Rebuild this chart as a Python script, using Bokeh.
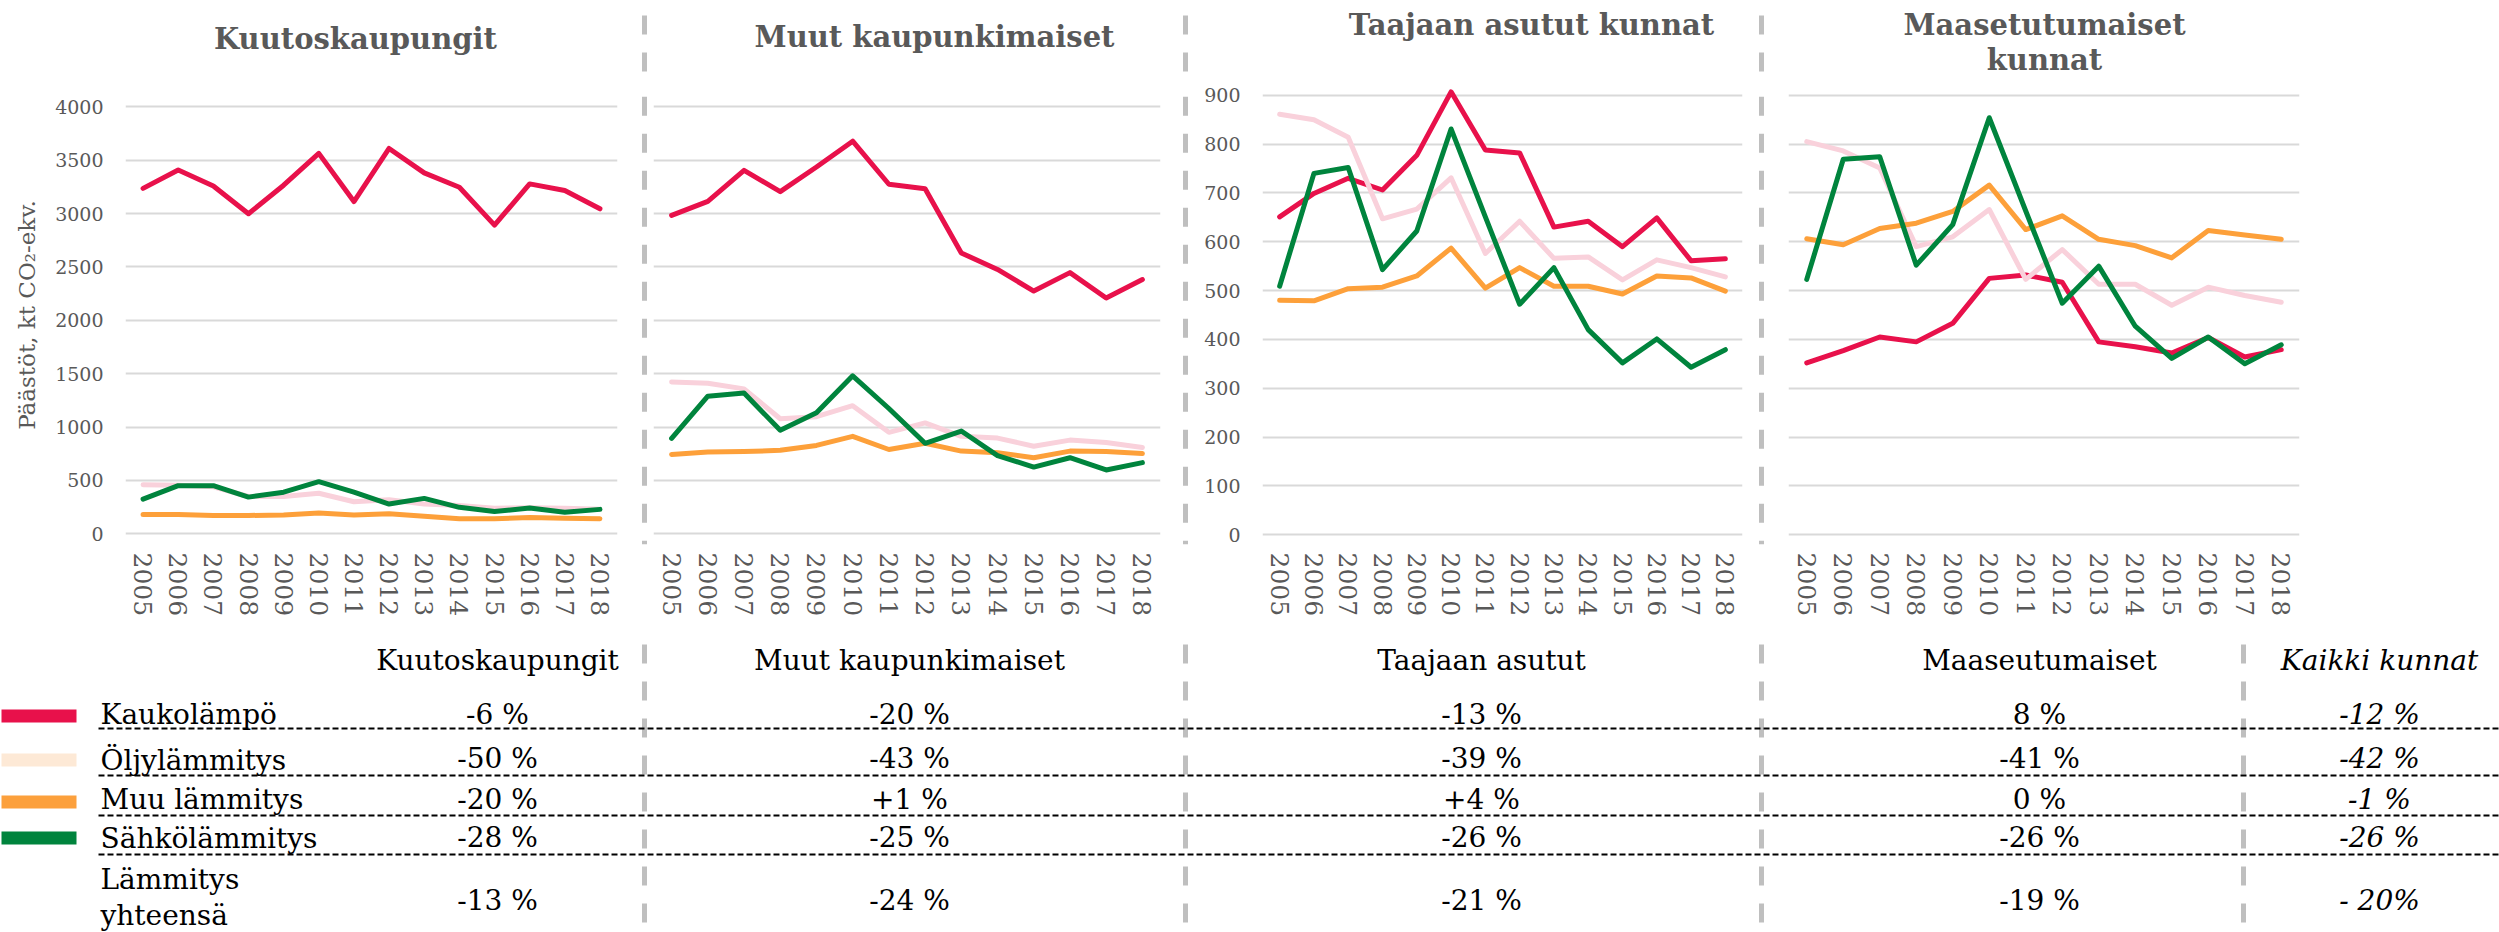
from bokeh.plotting import figure
from bokeh.models import Range1d, FactorRange, FixedTicker, Grid
from bokeh.layouts import row, column
from bokeh.embed import file_html
from bokeh.resources import INLINE
from bokeh.core.properties import value

FONT = "DejaVu Serif"
GRAY = "#595959"
SEP_COLOR = "#BFBFBF"

# ---------------- data ----------------
years = [str(y) for y in range(2005, 2019)]
series_names = ["Kaukolämpö", "Öljylämmitys", "Muu lämmitys", "Sähkölämmitys"]
line_colors = ["#E8114B", "#F9D1DB", "#FDA03A", "#00843D"]
legend_colors = ["#E8114B", "#FDE9D6", "#FCA03C", "#00843D"]

kuutos_kaukolampo = [3236, 3408, 3259, 2999, 3266, 3564, 3113, 3610, 3381, 3247, 2892, 3278, 3216, 3045]
kuutos_oljy = [460, 455, 440, 350, 350, 380, 300, 320, 280, 265, 240, 245, 240, 230]
kuutos_muu = [180, 180, 172, 172, 176, 195, 176, 187, 164, 141, 141, 153, 145, 141]
kuutos_sahko = [325, 451, 451, 344, 390, 489, 390, 279, 332, 248, 210, 241, 202, 229]

muut_kaukolampo = [2984, 3114, 3405, 3206, 3436, 3678, 3275, 3233, 2631, 2477, 2274, 2447, 2209, 2382]
muut_oljy = [1423, 1411, 1358, 1078, 1097, 1200, 951, 1039, 913, 897, 821, 878, 855, 809]
muut_muu = [744, 767, 771, 782, 828, 913, 790, 848, 775, 759, 713, 775, 771, 752]
muut_sahko = [894, 1289, 1319, 970, 1135, 1480, 1174, 848, 963, 733, 625, 713, 598, 667]

taajaan_kaukolampo = [651, 699, 730, 706, 777, 907, 788, 782, 630, 642, 590, 649, 561, 565]
taajaan_oljy = [861, 850, 814, 647, 667, 731, 576, 642, 566, 569, 522, 563, 547, 528]
taajaan_muu = [480, 479, 504, 507, 530, 587, 505, 547, 509, 509, 493, 530, 526, 499]
taajaan_sahko = [509, 740, 752, 543, 622, 831, 651, 472, 547, 420, 352, 401, 343, 379]

maaseutu_kaukolampo = [352, 377, 405, 395, 433, 525, 532, 517, 395, 385, 372, 404, 364, 379]
maaseutu_oljy = [805, 786, 751, 590, 610, 666, 523, 584, 513, 513, 470, 507, 490, 476]
maaseutu_muu = [606, 594, 627, 638, 662, 716, 625, 653, 605, 592, 567, 623, 614, 605]
maaseutu_sahko = [523, 769, 774, 552, 635, 854, 663, 474, 550, 427, 361, 405, 350, 389]

ticks_large = [0, 500, 1000, 1500, 2000, 2500, 3000, 3500, 4000]
ticks_small = [0, 100, 200, 300, 400, 500, 600, 700, 800, 900]

panel_titles = ["Kuutoskaupungit", "Muut kaupunkimaiset", "Taajaan asutut kunnat",
                "Maasetutumaiset", "kunnat"]
y_axis_title = "Päästöt, kt CO₂-ekv."

table_headers = ["Kuutoskaupungit", "Muut kaupunkimaiset", "Taajaan asutut", "Maaseutumaiset", "Kaikki kunnat"]
row_labels = ["Kaukolämpö", "Öljylämmitys", "Muu lämmitys", "Sähkölämmitys", "Lämmitys", "yhteensä"]
change_kuutos = ["-6 %", "-50 %", "-20 %", "-28 %", "-13 %"]
change_muut = ["-20 %", "-43 %", "+1 %", "-25 %", "-24 %"]
change_taajaan = ["-13 %", "-39 %", "+4 %", "-26 %", "-21 %"]
change_maaseutu = ["8 %", "-41 %", "0 %", "-26 %", "-19 %"]
change_kaikki = ["-12 %", "-42 %", "-1 %", "-26 %", "- 20%"]

W = 2499
TITLE_H = 75
CHART_H = 565
TABLE_H = 292
SEP_X = [644, 1185, 1761, 2243]
FIX = 8  # renderer draws "alphabetic" text a little low; lift it


def bl(ys):
    return [v - FIX for v in ys]


def blank(width, height, y0, y1):
    f = figure(width=width, height=height, x_range=Range1d(0, width), y_range=Range1d(y1, y0),
               output_backend="svg", toolbar_location=None, min_border=0,
               x_axis_location=None, y_axis_location=None)
    f.outline_line_color = None
    f.grid.visible = False
    return f


# ---------------- title strip ----------------
ts = blank(W, TITLE_H, 0, TITLE_H)
ts.segment(x0=SEP_X[:3], y0=[15] * 3, x1=SEP_X[:3], y1=[TITLE_H] * 3, line_color=SEP_COLOR,
           line_width=5, line_dash="19 18")
ts.text(x=[355, 934, 1531, 2044, 2044], y=bl([46, 44, 32, 32, 67]), text=panel_titles,
        text_font=value(FONT), text_font_size="29px", text_font_style="bold",
        text_align="center", text_baseline="alphabetic", text_color=GRAY)


def chart(width, bleft, bright, btop, bbot, yr, ticks, series, show_y=True, axis_label=None):
    p = figure(width=width, height=CHART_H, x_range=FactorRange(factors=years),
               y_range=Range1d(*yr), output_backend="svg", toolbar_location=None,
               min_border_left=bleft, min_border_right=bright, min_border_top=btop,
               min_border_bottom=bbot, y_axis_location="left" if show_y else None)
    p.outline_line_color = None
    p.xgrid.visible = False
    p.ygrid.visible = False
    p.add_layout(Grid(dimension=1, ticker=FixedTicker(ticks=ticks),
                      grid_line_color="#D9D9D9", grid_line_width=2))
    xa = p.xaxis[0]
    xa.axis_line_color = None
    xa.major_tick_line_color = None
    xa.minor_tick_line_color = None
    xa.major_tick_out = 0
    xa.major_tick_in = 0
    xa.major_label_orientation = "vertical"
    xa.major_label_standoff = 8
    xa.major_label_text_font = FONT
    xa.major_label_text_font_size = "25px"
    xa.major_label_text_color = GRAY
    if show_y:
        ya = p.yaxis[0]
        ya.ticker = FixedTicker(ticks=ticks)
        ya.axis_line_color = None
        ya.major_tick_line_color = None
        ya.minor_tick_line_color = None
        ya.major_tick_out = 0
        ya.major_tick_in = 0
        ya.major_label_standoff = 22
        ya.major_label_text_font = FONT
        ya.major_label_text_font_size = "19px"
        ya.major_label_text_color = GRAY
        if axis_label:
            ya.axis_label = axis_label
            ya.axis_label_text_font = FONT
            ya.axis_label_text_font_size = "23px"
            ya.axis_label_text_font_style = "normal"
            ya.axis_label_text_color = GRAY
            ya.axis_label_standoff = 12
    for vals, col in zip(series, line_colors):
        p.line(years, vals, line_color=col, line_width=5, line_join="round", line_cap="round")
    return p


def separator():
    s = blank(6, CHART_H, TITLE_H, TITLE_H + CHART_H)
    s.x_range = Range1d(0, 1)
    s.segment(x0=[0.5], y0=[89], x1=[0.5], y1=[TITLE_H + CHART_H], line_color=SEP_COLOR,
              line_width=5, line_dash="19 18")
    return s


f1 = chart(641, 125, 24, 10, 96, (-100, 4200), ticks_large,
           [kuutos_kaukolampo, kuutos_oljy, kuutos_muu, kuutos_sahko], True, y_axis_title)
f2 = chart(535, 6, 22, 10, 96, (-100, 4200), ticks_large,
           [muut_kaukolampo, muut_oljy, muut_muu, muut_sahko], False)
f3 = chart(570, 74, 16, 8, 94, (-20, 920), ticks_small,
           [taajaan_kaukolampo, taajaan_oljy, taajaan_muu, taajaan_sahko], True)
f4 = chart(735, 24, 200, 8, 94, (-20, 920), ticks_small,
           [maaseutu_kaukolampo, maaseutu_oljy, maaseutu_muu, maaseutu_sahko], False)

charts = row(f1, separator(), f2, separator(), f3, separator(), f4)

# ---------------- table ----------------
Y0 = TITLE_H + CHART_H
t = blank(W, TABLE_H, Y0, Y0 + TABLE_H)

t.segment(x0=SEP_X, y0=[644] * 4, x1=SEP_X, y1=[Y0 + TABLE_H] * 4, line_color=SEP_COLOR,
          line_width=5, line_dash="19 18")

rule_y = [728, 775, 815, 854]
t.segment(x0=[98] * 4, y0=rule_y, x1=[W] * 4, y1=rule_y, line_color="black",
          line_width=2, line_dash="6 3")

sw_top = [709, 753, 795, 831]
t.quad(left=[1] * 4, right=[76] * 4, top=sw_top, bottom=[v + 13 for v in sw_top],
       fill_color=legend_colors, line_color=None)

label_y = [722, 768, 807, 846, 887, 923]
t.text(x=[100] * 6, y=bl(label_y), text=row_labels, text_font=value(FONT), text_font_size="28px",
       text_align="left", text_baseline="alphabetic", text_color="black")

col_x = [497, 909, 1481, 2039, 2379]
t.text(x=col_x[:4], y=bl([668] * 4), text=table_headers[:4], text_font=value(FONT),
       text_font_size="28px", text_align="center", text_baseline="alphabetic", text_color="black")
t.text(x=[col_x[4]], y=bl([668]), text=[table_headers[4]], text_font=value(FONT),
       text_font_size="28px", text_font_style="italic", text_align="center",
       text_baseline="alphabetic", text_color="black")

val_y = [722, 766, 807, 845, 908]
for cx, vals in zip(col_x[:4], [change_kuutos, change_muut, change_taajaan, change_maaseutu]):
    t.text(x=[cx] * 5, y=bl(val_y), text=vals, text_font=value(FONT), text_font_size="28px",
           text_align="center", text_baseline="alphabetic", text_color="black")
t.text(x=[col_x[4]] * 5, y=bl(val_y), text=change_kaikki, text_font=value(FONT), text_font_size="28px",
       text_font_style="italic", text_align="center", text_baseline="alphabetic", text_color="black")

layout = column(ts, charts, t)
open("out.html", "w").write(file_html(layout, INLINE))
